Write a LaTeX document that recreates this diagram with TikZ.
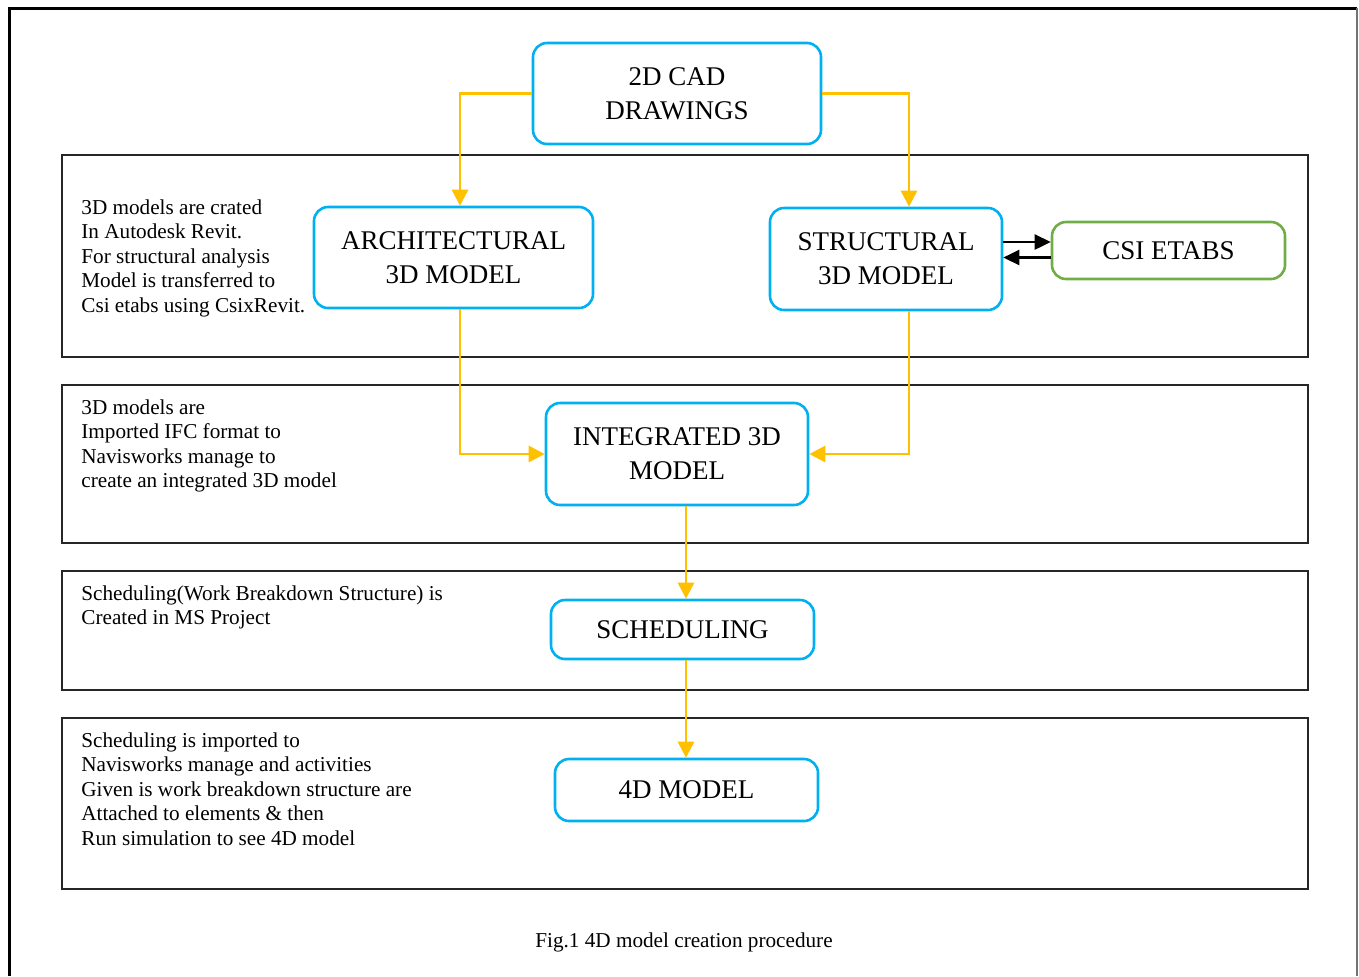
\documentclass[tikz,border=0pt]{standalone}
\usepackage{fontspec}
\setmainfont{Liberation Serif}
\usetikzlibrary{arrows.meta,positioning}

\definecolor{boxblue}{HTML}{00B0F0}
\definecolor{flowgold}{HTML}{FFC000}
\definecolor{etabsgreen}{HTML}{70AD47}

\tikzset{
	stage/.style={draw=boxblue, line width=1.3pt, rounded corners=7pt, align=center,
		font=\fontsize{13.5}{17}\selectfont, inner sep=0pt},
	flow/.style={draw=flowgold, line width=1.4pt, -{Triangle[length=8pt,width=8pt]}},
	link/.style={draw=black, line width=1.3pt, -{Triangle[length=8pt,width=7.5pt]}},
	band/.style={draw=black!85, line width=0.6pt},
	note/.style={anchor=north west, align=left, inner sep=0pt,
		font=\fontsize{10.6}{12.25}\selectfont}
}

\begin{document}
\begin{tikzpicture}[x=0.5pt, y=-0.5pt]

	\useasboundingbox (0,0) rectangle (1359,976);

	% outer frame
	\draw [line width=1.5pt] (9,976) -- (9,8) -- (1357,8);
	\draw [black!55, line width=0.6pt] (1357,8) -- (1357,976);

	% bands
	\foreach \top/\bot in {155/357, 385/543, 571/690, 718/889}
		\draw [band] (62,\top) rectangle (1308,\bot);

	% boxes
	\node [stage, minimum width=144pt, minimum height=50.5pt] (cad) at (677,93.5) {2D CAD\\DRAWINGS};
	\node [stage, minimum width=139.5pt, minimum height=50.5pt] (arch) at (453.5,257.5) {ARCHITECTURAL\\3D MODEL};
	\node [stage, minimum width=116pt, minimum height=51pt] (struct) at (886,259) {STRUCTURAL\\3D MODEL};
	\node [stage, draw=etabsgreen, minimum width=116.5pt, minimum height=28.5pt] (csi) at (1168.5,250.5) {CSI ETABS};
	\node [stage, minimum width=131pt, minimum height=51pt] (integ) at (677,454) {INTEGRATED 3D\\MODEL};
	\node [stage, minimum width=131.5pt, minimum height=29.5pt] (sched) at (682.5,629.5) {SCHEDULING};
	\node [stage, minimum width=131.5pt, minimum height=31pt] (fourd) at (686.5,790) {4D MODEL};

	% notes
	\node [note] (noteA) at (81,199) {3D models are crated\\In Autodesk Revit.\\For structural analysis\\Model is transferred to\\Csi etabs using CsixRevit.};
	\node [note] (noteB) at (81,399) {3D models are\\Imported IFC format to\\Navisworks manage to\\create an integrated 3D model};
	\node [note] (noteC) at (81,585) {Scheduling(Work Breakdown Structure) is\\Created in MS Project};
	\node [note] (noteD) at (81,732) {Scheduling is imported to\\Navisworks manage and activities\\Given is work breakdown structure are\\Attached to elements \& then\\Run simulation to see 4D model};
	\node [note, anchor=base] (caption) at (684,947) {Fig.1 4D model creation procedure};

	% connectors
	\draw [flow] (cad.west) -| ([xshift=3.25pt]arch.north);
	\draw [flow] (cad.east) -| ([xshift=11.5pt]struct.north);
	\draw [flow] ([xshift=3.25pt]arch.south) |- (integ.west);
	\draw [flow] ([xshift=11.5pt]struct.south) |- (integ.east);
	\draw [flow] ([xshift=4.5pt]integ.south) -- ([xshift=4.5pt]integ.south |- sched.north);
	\draw [flow] ([xshift=1.75pt]sched.south) -- ([xshift=1.75pt]sched.south |- fourd.north);

	\draw [link] ([yshift=8.5pt]struct.east) -- ([yshift=8.5pt]struct.east -| csi.west);
	\draw [link] ([yshift=-3.5pt]csi.west) -- ([yshift=-3.5pt]csi.west -| struct.east);

\end{tikzpicture}
\end{document}
